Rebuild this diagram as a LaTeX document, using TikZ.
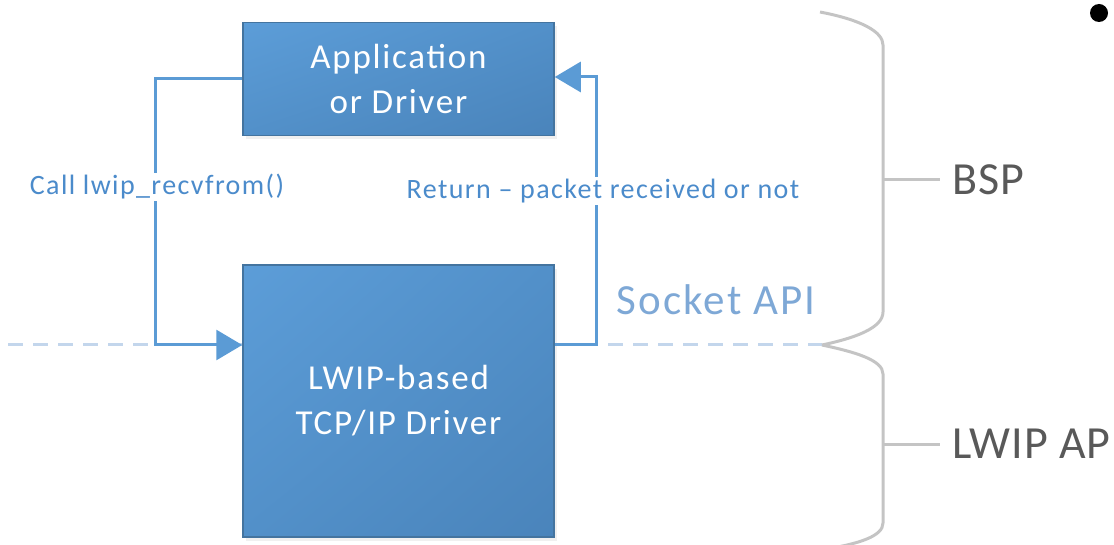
\documentclass[tikz,border=0pt]{standalone}
\usepackage{fontspec}
\setmainfont{Carlito}[LetterSpace=5]
\newfontfamily\sidefont{Carlito}[LetterSpace=2]
\usetikzlibrary{arrows.meta,shadows,shadings}
\definecolor{flowblue}{HTML}{5B9BD5}
\definecolor{dashblue}{HTML}{C3D6EC}
\definecolor{labelblue}{HTML}{4B8BCB}
\definecolor{apiblue}{HTML}{7EA8D6}
\definecolor{boxA}{HTML}{5C9DD8}
\definecolor{boxB}{HTML}{5290C9}
\definecolor{boxC}{HTML}{4A84BB}
\definecolor{boxedge}{HTML}{44749F}
\definecolor{bracegray}{HTML}{C4C4C4}
\definecolor{textgray}{HTML}{595959}
\tikzset{
  bluebox/.style={draw=boxedge, line width=1.5pt, upper left=boxA, upper right=boxB,
    lower left=boxB, lower right=boxC, text=white, align=center, inner sep=0pt,
    font=\fontsize{35}{45}\selectfont,
    drop shadow={opacity=0.12, shadow xshift=3pt, shadow yshift=-4pt}},
  flow/.style={draw=flowblue, line width=3pt},
  tip/.style={-{Triangle[length=26pt,width=30pt]}},
  dashline/.style={draw=dashblue, line width=3pt, dash pattern=on 15pt off 10pt},
  lbl/.style={text=labelblue, fill=white, inner xsep=1pt, inner ysep=2pt, font=\fontsize{28}{30}\selectfont},
  bracestyle/.style={draw=bracegray, line width=3pt},
  side/.style={text=textgray, anchor=west, inner sep=0pt, font=\sidefont\fontsize{46}{50}\selectfont}
}
\begin{document}
\begin{tikzpicture}[x=1pt,y=-1pt]
\useasboundingbox (0,0) rectangle (1114,545);
% dashed layer line
\coordinate (dl) at (8,345);
\coordinate (dr) at (822,345);
\draw[dashline] (dl) -- (dr);
% boxes
\node[bluebox, minimum width=311pt, minimum height=113pt] (app) at (398.5,79) {Application\\or Driver};
\node[bluebox, minimum width=311pt, minimum height=272pt] (lwip) at (398.5,401) {LWIP-based\\TCP/IP Driver};
% connectors
\coordinate (lin) at (lwip.west |- 0,345);
\coordinate (rout) at (lwip.east |- 0,345);
\coordinate (aout) at (app.west |- 0,79);
\coordinate (ain) at (app.east |- 0,77);
\draw[flow,tip] (aout) -- (155,79) -- (155,345) -- (lin);
\draw[flow,tip] (rout) -- (596,345) -- (596,77) -- (ain);
% labels
\node[lbl] (call) at (157,187) {Call lwip\_recvfrom()};
\node[lbl] (ret) at (603,191) {Return – packet received or not};
\node[text=apiblue, font=\fontsize{43}{46}\selectfont] (api) at (716,300) {Socket API};
% braces
\coordinate (b1) at (820,12);
\coordinate (btip) at (822,345);
\coordinate (b2) at (820,550);
\draw[bracestyle] (b1) .. controls (862,20) and (883,32) .. (883,45) -- (883,312)
  .. controls (883,328) and (855,338) .. (btip);
\draw[bracestyle] (btip) .. controls (855,352) and (883,360) .. (883,374) -- (883,523)
  .. controls (883,536) and (860,544) .. (b2);
\coordinate (t1) at (883,180);
\coordinate (t2) at (883,444);
\node[side] (bsp) at (952,180) {BSP};
\node[side] (lap) at (952,444) {LWIP AP};
\draw[bracestyle] (t1) -- (940,180);
\draw[bracestyle] (t2) -- (940,444);
% dot
\fill[black] (1099,13) circle (9pt);
\end{tikzpicture}
\end{document}
